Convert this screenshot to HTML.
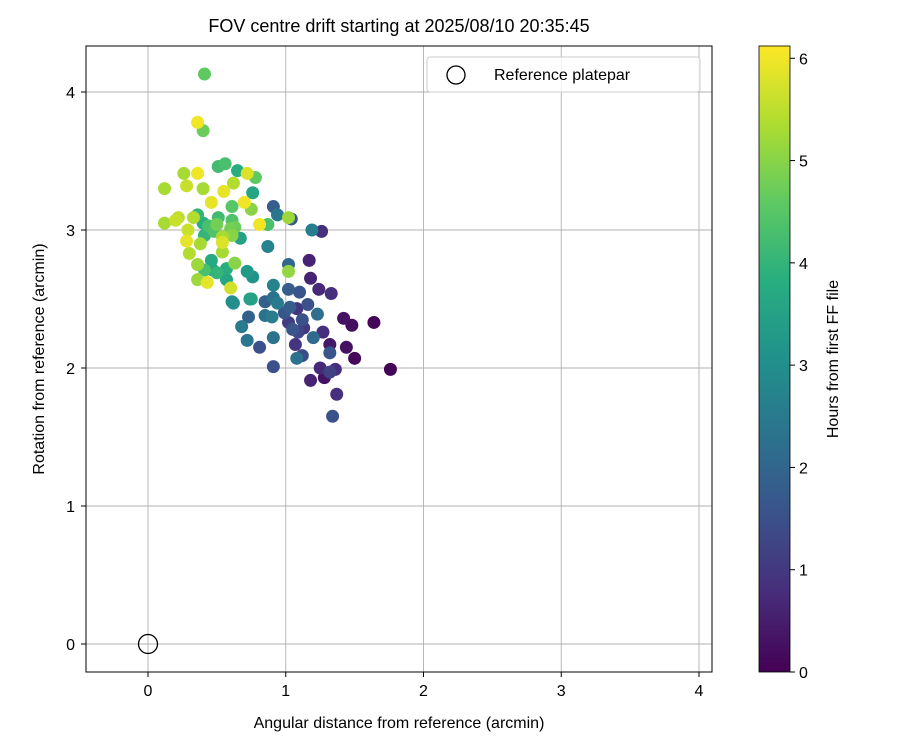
<!DOCTYPE html>
<html><head><meta charset="utf-8"><style>
body{margin:0;background:#fff;}
svg{display:block;font-family:"Liberation Sans","DejaVu Sans",sans-serif;}
</style></head><body>
<svg id="chart" width="900" height="750" viewBox="0 0 900 750">
<defs>
<linearGradient id="vir" x1="0" y1="1" x2="0" y2="0">
<stop offset="0" stop-color="#440154"/><stop offset="0.125" stop-color="#472d7b"/><stop offset="0.25" stop-color="#3b528b"/><stop offset="0.375" stop-color="#2c728e"/><stop offset="0.5" stop-color="#21918c"/><stop offset="0.625" stop-color="#28ae80"/><stop offset="0.75" stop-color="#5ec962"/><stop offset="0.875" stop-color="#addc30"/><stop offset="1" stop-color="#fde725"/>
</linearGradient>
<clipPath id="clip"><rect x="86" y="46" width="626" height="626"/></clipPath>
</defs>
<text x="399" y="32" text-anchor="middle" font-size="18">FOV centre drift starting at 2025/08/10 20:35:45</text>
<g id="grid"></g>
<g id="pts" clip-path="url(#clip)"></g>
<rect x="86" y="46" width="626" height="626" fill="none" stroke="#000" stroke-width="1"/>
<g id="ticks"></g>
<text x="399" y="728" text-anchor="middle" font-size="16">Angular distance from reference (arcmin)</text>
<text x="44" y="359" text-anchor="middle" font-size="16" transform="rotate(-90 44 359)">Rotation from reference (arcmin)</text>
<g>
<rect x="427" y="57" width="273" height="35" rx="3" fill="#fff" fill-opacity="0.8" stroke="#ccc"/>
<circle cx="456" cy="75" r="9" fill="none" stroke="#000" stroke-width="1.3"/>
<text x="494" y="80" font-size="16">Reference platepar</text>
</g>
<rect x="759" y="46" width="31" height="626" fill="url(#vir)" stroke="#000" stroke-width="0.8"/>
<g id="cticks"></g>
<text x="838" y="359" text-anchor="middle" font-size="16" transform="rotate(-90 838 359)">Hours from first FF file</text>
</svg>
<script>
const xs=[0.41,0.36,0.40,0.56,0.51,0.65,0.72,0.78,0.26,0.36,0.12,0.28,0.40,0.55,0.62,0.76,0.46,0.70,0.75,0.61,0.81,0.87,0.12,0.22,0.33,0.40,0.51,0.50,0.61,0.63,0.28,0.38,0.54,0.54,0.61,0.67,0.30,0.54,0.36,0.46,0.63,0.50,0.72,0.76,0.36,0.43,0.57,0.60,0.61,0.74,0.20,0.36,0.44,0.48,0.41,0.29,0.60,0.47,0.57,0.41,
0.91,0.94,1.02,1.04,1.19,1.26,0.87,1.17,1.02,1.02,1.18,1.24,1.33,0.91,1.02,1.10,1.16,1.23,1.08,0.85,0.91,0.94,0.85,0.90,0.73,0.99,1.03,1.02,1.12,1.05,1.09,1.13,1.20,1.27,1.42,1.48,1.64,0.68,0.72,0.81,0.91,1.07,1.32,1.44,1.32,1.12,1.08,1.50,0.91,1.25,1.32,1.36,1.28,1.18,1.76,1.37,1.34,0.62,0.75];
const ys=[4.13,3.78,3.72,3.48,3.46,3.43,3.41,3.38,3.41,3.41,3.30,3.32,3.30,3.28,3.34,3.27,3.20,3.20,3.15,3.17,3.04,3.04,3.05,3.09,3.09,3.05,3.09,3.04,3.07,3.02,2.92,2.90,2.95,2.91,2.96,2.94,2.83,2.84,2.75,2.78,2.76,2.69,2.70,2.66,2.64,2.62,2.64,2.58,2.48,2.50,3.07,3.11,3.03,2.99,2.96,3.00,3.01,2.71,2.72,2.71,
3.17,3.11,3.09,3.08,3.00,2.99,2.88,2.78,2.75,2.70,2.65,2.57,2.54,2.60,2.57,2.55,2.46,2.39,2.43,2.48,2.51,2.47,2.38,2.37,2.37,2.40,2.44,2.33,2.35,2.28,2.26,2.29,2.22,2.26,2.36,2.31,2.33,2.30,2.20,2.15,2.22,2.17,2.17,2.15,2.11,2.09,2.07,2.07,2.01,2.00,1.97,1.99,1.93,1.91,1.99,1.81,1.65,2.47,2.50];
const hours=[4.6,6.0,4.7,4.3,4.2,3.8,5.8,4.6,5.3,6.0,5.3,5.6,5.3,5.9,5.4,3.6,5.9,6.0,5.0,4.5,6.0,4.3,5.3,5.5,5.4,3.8,4.2,4.8,4.4,4.7,5.9,5.3,5.3,5.8,5.0,3.5,5.4,5.3,5.2,3.7,5.0,4.0,3.3,3.1,5.2,5.9,3.6,5.7,3.0,3.4,5.6,4.0,4.3,4.4,4.0,5.6,4.8,3.5,3.8,4.3,
1.8,2.4,5.2,1.7,2.6,0.8,2.7,0.6,2.0,5.1,0.6,0.7,0.8,2.7,1.8,1.6,1.5,2.2,0.9,1.9,2.3,2.5,2.3,2.6,1.9,1.6,1.8,1.1,1.5,1.6,1.3,1.0,2.1,0.8,0.3,0.2,0.05,2.5,2.4,1.5,2.3,0.9,0.4,0.3,1.6,1.4,2.3,0.1,1.5,0.7,1.2,0.8,0.3,0.6,0.05,0.8,1.5,3.0,3.5];
const xTicks=[0,1,2,3,4];
const yTicks=[0,1,2,3,4];
const cTicks=[0,1,2,3,4,5,6];
const refPoint=[0,0];
const tMax=6.12;
const NS='http://www.w3.org/2000/svg';
const X=v=>148+v*137.75, Y=v=>644-v*138, C=v=>672-v*(626/tMax);
const vir=['#440154','#472d7b','#3b528b','#2c728e','#21918c','#28ae80','#5ec962','#addc30','#fde725'];
function hex(h){return [1,3,5].map(i=>parseInt(h.substr(i,2),16));}
function cmap(t){let f=Math.max(0,Math.min(1,t/tMax))*8;let i=Math.min(7,Math.floor(f));let r=f-i;let a=hex(vir[i]),b=hex(vir[i+1]);return 'rgb('+a.map((v,k)=>Math.round(v+(b[k]-v)*r)).join(',')+')';}
function mk(tag,at,parent){const e=document.createElementNS(NS,tag);for(const k in at)e.setAttribute(k,at[k]);parent.appendChild(e);return e;}
const grid=document.getElementById('grid'),ticks=document.getElementById('ticks'),pts=document.getElementById('pts'),ct=document.getElementById('cticks');
xTicks.forEach(v=>{
 const g=mk('line',{x1:X(v),x2:X(v),y1:46,y2:672,stroke:'#b0b0b0','stroke-width':0.9},grid);
 
 
 const t=mk('line',{x1:X(v),x2:X(v),y1:672,y2:677,stroke:'#000'},ticks);
 
 
 const l=mk('text',{x:X(v),y:696,'text-anchor':'middle','font-size':16},ticks);
 l.textContent=v;
 
 
});
yTicks.forEach(v=>{
 const g=mk('line',{x1:86,x2:712,y1:Y(v),y2:Y(v),stroke:'#b0b0b0','stroke-width':0.9},grid);
 
 
 const t=mk('line',{x1:81,x2:86,y1:Y(v),y2:Y(v),stroke:'#000'},ticks);
 
 
 const l=mk('text',{x:75,y:Y(v)+6,'text-anchor':'end','font-size':16},ticks);
 l.textContent=v;
 
 
});
cTicks.forEach(v=>{
 const t=mk('line',{x1:790,x2:795,y1:C(v),y2:C(v),stroke:'#000'},ct);
 
 
 const l=mk('text',{x:799,y:C(v)+6,'font-size':16},ct);
 l.textContent=v;
 
 
});
const idx=xs.map((_,i)=>i).sort((a,b)=>hours[a]-hours[b]);
idx.forEach(i=>{
 const c=mk('circle',{cx:X(xs[i]),cy:Y(ys[i]),r:6.5,fill:cmap(hours[i])},pts);
 
 
});
const ref=mk('circle',{cx:X(refPoint[0]),cy:Y(refPoint[1]),r:9.5,fill:'none',stroke:'#000','stroke-width':1.3},document.getElementById('chart'));


</script>
</body></html>
